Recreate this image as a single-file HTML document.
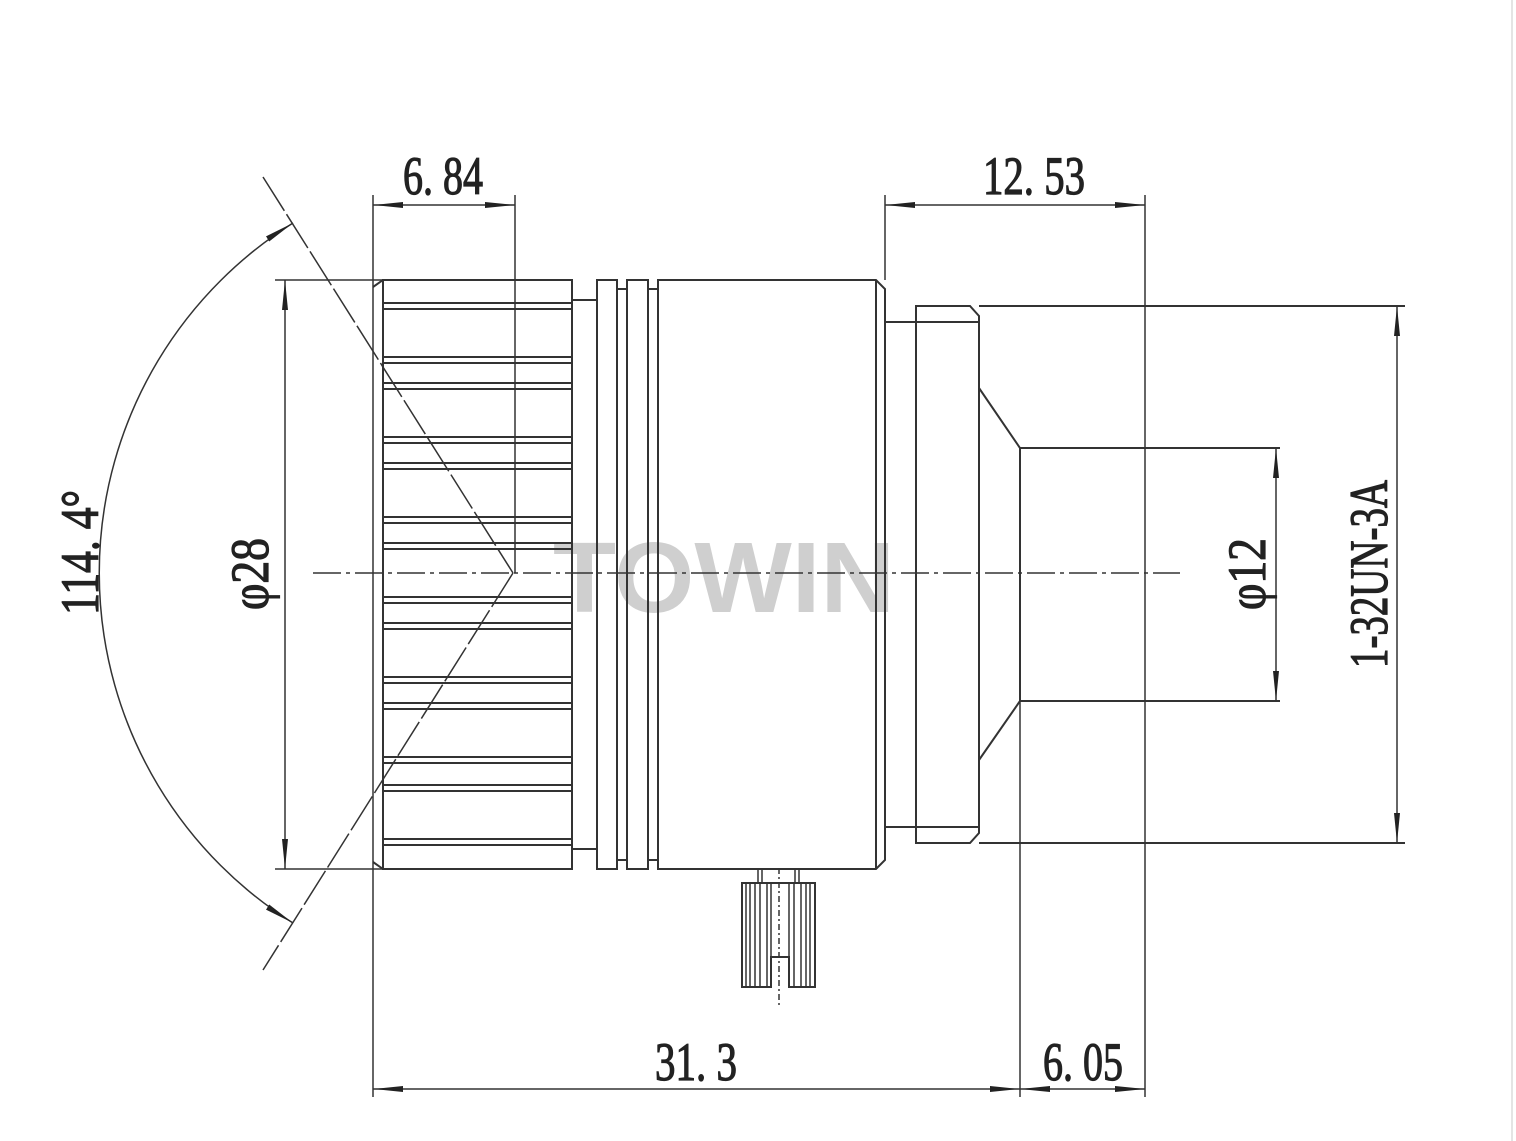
<!DOCTYPE html>
<html><head><meta charset="utf-8"><style>
html,body{margin:0;padding:0;background:#fff;}
svg{display:block;}
text{font-family:"Liberation Serif",serif;fill:#222;}
</style></head><body>
<svg width="1516" height="1141" viewBox="0 0 1516 1141" xmlns="http://www.w3.org/2000/svg">
<defs>
<marker id="ah" viewBox="0 0 30 8" refX="30" refY="4" markerWidth="30" markerHeight="8" markerUnits="userSpaceOnUse" orient="auto-start-reverse">
<path d="M0,1 L30,4 L0,7 Z" fill="#222"/>
</marker>
</defs>
<rect width="1516" height="1141" fill="#fff"/>
<line x1="1512" y1="0" x2="1512" y2="1141" stroke="#e4e4e4" stroke-width="2"/>
<text x="724" y="612" text-anchor="middle" style="font-family:'Liberation Sans',sans-serif;font-weight:bold;font-size:100px;fill:#cfcfcf" textLength="342" lengthAdjust="spacingAndGlyphs">TOWIN</text>

<g stroke="#333" stroke-width="2" fill="none">
<line x1="313" y1="573" x2="1180" y2="573" stroke-dasharray="28,5,4,5" stroke-width="1.5"/>
<rect x="383" y="280" width="189" height="589"/>
<line x1="373" y1="287" x2="383" y2="280"/>
<line x1="373" y1="862" x2="383" y2="869"/>
<g stroke-width="2">
<line x1="383" y1="303" x2="572" y2="303"/><line x1="383" y1="309" x2="572" y2="309"/>
<line x1="383" y1="357" x2="572" y2="357"/><line x1="383" y1="363" x2="572" y2="363"/>
<line x1="383" y1="383" x2="572" y2="383"/><line x1="383" y1="389" x2="572" y2="389"/>
<line x1="383" y1="437" x2="572" y2="437"/><line x1="383" y1="443" x2="572" y2="443"/>
<line x1="383" y1="463" x2="572" y2="463"/><line x1="383" y1="469" x2="572" y2="469"/>
<line x1="383" y1="517" x2="572" y2="517"/><line x1="383" y1="523" x2="572" y2="523"/>
<line x1="383" y1="543" x2="572" y2="543"/><line x1="383" y1="549" x2="572" y2="549"/>
<line x1="383" y1="597" x2="572" y2="597"/><line x1="383" y1="603" x2="572" y2="603"/>
<line x1="383" y1="623" x2="572" y2="623"/><line x1="383" y1="629" x2="572" y2="629"/>
<line x1="383" y1="677" x2="572" y2="677"/><line x1="383" y1="683" x2="572" y2="683"/>
<line x1="383" y1="703" x2="572" y2="703"/><line x1="383" y1="709" x2="572" y2="709"/>
<line x1="383" y1="757" x2="572" y2="757"/><line x1="383" y1="763" x2="572" y2="763"/>
<line x1="383" y1="785" x2="572" y2="785"/><line x1="383" y1="791" x2="572" y2="791"/>
<line x1="383" y1="839" x2="572" y2="839"/><line x1="383" y1="845" x2="572" y2="845"/>
</g>
<line x1="572" y1="300" x2="597" y2="300"/>
<line x1="572" y1="849" x2="597" y2="849"/>
<path d="M597,849 V280 H617 V289 H627 V280 H648 V289 H658"/>
<path d="M597,849 V869 H617 V860 H627 V869 H648 V860 H658"/>
<line x1="617" y1="289" x2="617" y2="860"/>
<line x1="627" y1="289" x2="627" y2="860"/>
<line x1="648" y1="289" x2="648" y2="860"/>
<path d="M658,280 H876 L885,289 V860 L876,869 H658 Z"/>
<line x1="876" y1="280" x2="876" y2="869"/>
<line x1="885" y1="322" x2="979" y2="322"/>
<line x1="885" y1="827" x2="979" y2="827"/>
<path d="M916,306 H970 L979,316 V833 L970,843 H916 Z"/>
<path d="M979,388 L1020,448 V701 L979,760"/>
<line x1="1020" y1="448" x2="1280" y2="448"/>
<line x1="1020" y1="701" x2="1280" y2="701"/>
<line x1="979" y1="306" x2="1405" y2="306"/>
<line x1="979" y1="843" x2="1405" y2="843"/>
<path d="M742,883 H815 V987 H789 V957 H771 V987 H742 Z"/>
<g stroke-width="1.5">
<line x1="758" y1="869" x2="758" y2="883"/><line x1="762" y1="869" x2="762" y2="883"/>
<line x1="795" y1="869" x2="795" y2="883"/><line x1="799" y1="869" x2="799" y2="883"/>
<line x1="746" y1="883" x2="746" y2="987"/><line x1="750" y1="883" x2="750" y2="987"/>
<line x1="755" y1="883" x2="755" y2="987"/><line x1="760" y1="883" x2="760" y2="987"/>
<line x1="767" y1="883" x2="767" y2="987"/><line x1="771" y1="883" x2="771" y2="957"/>
<line x1="789" y1="883" x2="789" y2="957"/><line x1="794" y1="883" x2="794" y2="987"/>
<line x1="801" y1="883" x2="801" y2="987"/><line x1="806" y1="883" x2="806" y2="987"/>
<line x1="810" y1="883" x2="810" y2="987"/>
<line x1="779" y1="868" x2="779" y2="1006" stroke-dasharray="6,3,2,3"/>
</g>
<line x1="373" y1="195" x2="373" y2="1097" stroke-width="1.5"/>
<line x1="515" y1="195" x2="515" y2="573" stroke-width="1.5"/>
<line x1="885" y1="195" x2="885" y2="280" stroke-width="1.5"/>
<line x1="1145" y1="195" x2="1145" y2="1097" stroke-width="1.5"/>
<line x1="1020" y1="701" x2="1020" y2="1097" stroke-width="1.5"/>
<line x1="275" y1="280" x2="383" y2="280" stroke-width="1.5"/>
<line x1="275" y1="869" x2="383" y2="869" stroke-width="1.5"/>
<line x1="263" y1="177" x2="513" y2="573" stroke-width="1.5" stroke-dasharray="40,4"/>
<line x1="513" y1="573" x2="263" y2="970" stroke-width="1.5" stroke-dasharray="40,4"/>
<path d="M293,223 A413,413 0 0,0 293,923" stroke-width="1.5" marker-start="url(#ah)" marker-end="url(#ah)"/>
<line x1="373" y1="205" x2="515" y2="205" stroke-width="1.5" marker-start="url(#ah)" marker-end="url(#ah)"/>
<line x1="885" y1="205" x2="1145" y2="205" stroke-width="1.5" marker-start="url(#ah)" marker-end="url(#ah)"/>
<line x1="285" y1="280" x2="285" y2="869" stroke-width="1.5" marker-start="url(#ah)" marker-end="url(#ah)"/>
<line x1="1276" y1="448" x2="1276" y2="701" stroke-width="1.5" marker-start="url(#ah)" marker-end="url(#ah)"/>
<line x1="1397" y1="306" x2="1397" y2="843" stroke-width="1.5" marker-start="url(#ah)" marker-end="url(#ah)"/>
<line x1="373" y1="1089" x2="1020" y2="1089" stroke-width="1.5" marker-start="url(#ah)" marker-end="url(#ah)"/>
<line x1="1020" y1="1089" x2="1145" y2="1089" stroke-width="1.5" marker-start="url(#ah)" marker-end="url(#ah)"/>
</g>
<g style="font-size:54px;stroke:#222;stroke-width:1.2">
<text x="403" y="194" textLength="80" lengthAdjust="spacingAndGlyphs">6. 84</text>
<text x="983" y="194" textLength="102" lengthAdjust="spacingAndGlyphs">12. 53</text>
<text x="655" y="1080" textLength="82" lengthAdjust="spacingAndGlyphs">31. 3</text>
<text x="1043" y="1080" textLength="80" lengthAdjust="spacingAndGlyphs">6. 05</text>
<text transform="translate(98,615) rotate(-90)" textLength="125" lengthAdjust="spacingAndGlyphs">114. 4°</text>
<text transform="translate(268,610) rotate(-90)" textLength="72" lengthAdjust="spacingAndGlyphs">φ28</text>
<text transform="translate(1265,610) rotate(-90)" textLength="72" lengthAdjust="spacingAndGlyphs">φ12</text>
<text transform="translate(1387,668) rotate(-90)" textLength="188" lengthAdjust="spacingAndGlyphs">1-32UN-3A</text>
</g>
</svg>
</body></html>
